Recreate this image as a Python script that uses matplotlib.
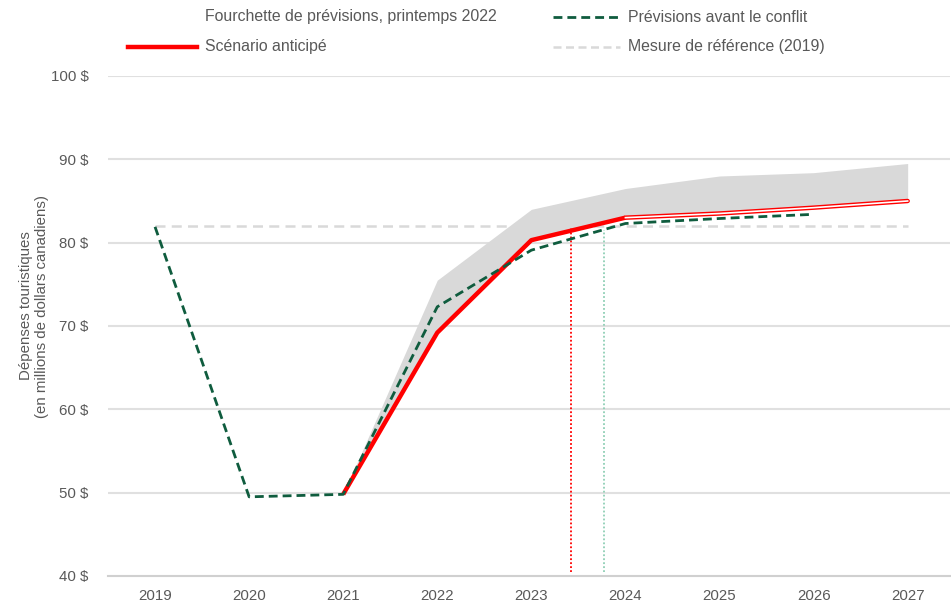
import matplotlib
matplotlib.use("Agg")
import matplotlib.pyplot as plt
from matplotlib.lines import Line2D

plt.rcParams['font.family'] = ['Liberation Sans', 'DejaVu Sans']

years = [2019, 2020, 2021, 2022, 2023, 2024, 2025, 2026, 2027]
pre_conflict_years = [2019, 2020, 2021, 2022, 2023, 2024, 2025, 2026]
pre_conflict = [81.9, 49.5, 49.8, 72.3, 79.1, 82.3, 82.9, 83.4]
scenario_years = [2021, 2022, 2023, 2024, 2025, 2026, 2027]
scenario = [49.8, 69.2, 80.3, 83.0, 83.5, 84.2, 85.0]
band_upper = [49.8, 75.5, 84.0, 86.5, 88.0, 88.4, 89.5]
reference_value = 82.0
recovery_scenario = 2023.42
recovery_pre = 2023.77
yticks = [40, 50, 60, 70, 80, 90, 100]
ytick_labels = ["40 $", "50 $", "60 $", "70 $", "80 $", "90 $", "100 $"]

TXT = '#595959'
GREEN = '#0f5c3e'
RED = '#ff0000'
GREY = '#d9d9d9'
FS = 10.8
LFS = 11.4

W, H = 951, 604
fig = plt.figure(figsize=(W / 100, H / 100), dpi=100)
ax = fig.add_axes([108 / W, (H - 576) / H, (950 - 108) / W, (576 - 76) / H])

ax.set_xlim(2018.5, 2027.45)
ax.set_ylim(40, 100)
for y in yticks[1:]:
    ax.axhline(y, color='#e0e0e0', lw=1.5, zorder=0)

ax.fill_between(scenario_years, scenario, band_upper, color=GREY, lw=0, zorder=1)
ax.plot([years[0], years[-1]], [reference_value] * 2, color=GREY, lw=1.8,
        dashes=(4, 2.5), zorder=2)
ax.plot(pre_conflict_years, pre_conflict, color=GREEN, lw=2.0, dashes=(3.2, 1.8), zorder=4)

split = scenario_years.index(2024)
ax.plot(scenario_years[:split + 1], scenario[:split + 1], color=RED, lw=3.2, zorder=3,
        solid_capstyle='butt')
ax.plot(scenario_years[split:], scenario[split:], color=RED, lw=3.2, zorder=3,
        solid_capstyle='round')
ax.plot(scenario_years[split:], scenario[split:], color='white', lw=1.2, zorder=3.5)

# recovery markers
ax.plot([recovery_scenario] * 2, [40.5, reference_value - 0.3], color=RED,
        lw=1.3, ls=(0, (1, 1.2)), zorder=2)
ax.plot([recovery_pre] * 2, [40.5, reference_value - 0.5], color='#8fcfb5',
        lw=1.3, ls=(0, (1, 1.2)), zorder=2)

ax.set_xticks(years)
ax.set_xticklabels([str(y) for y in years])
ax.set_yticks(yticks)
ax.set_yticklabels(ytick_labels)
ax.tick_params(axis='both', length=0, colors=TXT, labelsize=FS)
ax.tick_params(axis='y', pad=14)
ax.tick_params(axis='x', pad=9)
for s in ['top', 'right', 'left']:
    ax.spines[s].set_visible(False)
ax.spines['bottom'].set_color('#d0d0d0')
ax.spines['bottom'].set_linewidth(1.5)

ax.set_ylabel("Dépenses touristiques\n(en millions de dollars canadiens)", color=TXT,
              fontsize=FS)
ax.yaxis.set_label_coords(-0.07, 0.54)

# legend (manual)
def fx(px):
    return px / W

def fy(py):
    return 1 - py / H

fig.text(fx(205), fy(17), "Fourchette de prévisions, printemps 2022", color=TXT,
         fontsize=LFS, va='center')
fig.text(fx(205), fy(47), "Scénario anticipé", color=TXT, fontsize=LFS, va='center')
fig.text(fx(628), fy(17), "Prévisions avant le conflit", color=TXT, fontsize=LFS, va='center')
fig.text(fx(628), fy(47), "Mesure de référence (2019)", color=TXT, fontsize=LFS, va='center')
fig.add_artist(Line2D([fx(128), fx(197)], [fy(47), fy(47)], color=RED, lw=3.2,
                      transform=fig.transFigure))
fig.add_artist(Line2D([fx(553), fx(620)], [fy(17), fy(17)], color=GREEN, lw=2,
                      dashes=(3.2, 1.8), transform=fig.transFigure))
fig.add_artist(Line2D([fx(553), fx(620)], [fy(47), fy(47)], color=GREY, lw=1.8,
                      dashes=(3.2, 1.8), transform=fig.transFigure))

fig.savefig('out.png', dpi=100)
